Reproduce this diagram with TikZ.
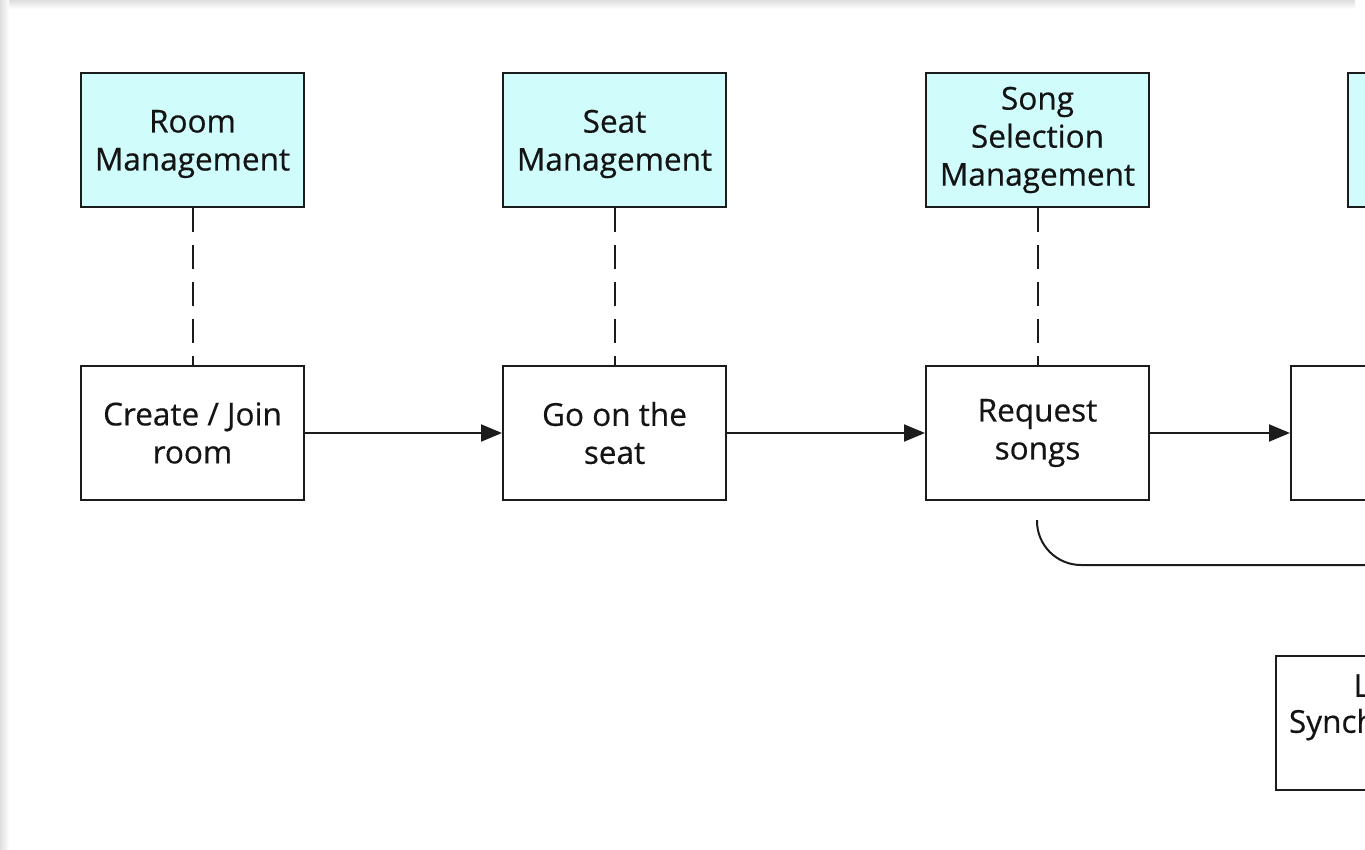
\documentclass[tikz,border=0pt]{standalone}
\usepackage{fontspec}
\setmainfont{Open Sans}
\newfontfamily\labelfont{Open Sans}[FakeBold=0.5]
\usetikzlibrary{arrows.meta}
\definecolor{modfill}{RGB}{208,252,252}
\definecolor{edge}{RGB}{28,28,28}
\definecolor{ink}{RGB}{20,20,20}
\begin{document}
\begin{tikzpicture}[x=1pt,y=-1pt,
  label text/.style={align=center, text=ink, font=\labelfont\fontsize{31.5}{38}\selectfont},
  box/.style={draw=edge, line width=2pt, minimum width=223pt, minimum height=134pt,
    inner sep=0pt, label text, anchor=north west},
  module/.style={box, fill=modfill},
  stepbox/.style={box, fill=white},
  link/.style={draw=edge, line width=2pt, dash pattern=on 24pt off 13pt},
  flow/.style={draw=edge, line width=2pt, -{Triangle[length=21pt,width=17pt]}},
  track/.style={draw=edge, line width=2pt, rounded corners=44pt},
]
\useasboundingbox (0,0) rectangle (1365,850);
\clip (0,0) rectangle (1365,850);
% page edge shadow
\shade[top color=black!13, bottom color=white] (0,0) rectangle (1355,9);
\shade[left color=black!13, right color=white] (0,0) rectangle (9,850);

% module layer
\node[module] (room)  at (80,72)   {};
\node[module] (seat)  at (502,72)  {};
\node[module] (song)  at (925,72)  {Song\\Selection\\Management};
\node[module] (mod4)  at (1347,72) {};
\node[label text] (roomtext) at ([yshift=-4pt]room.center) {Room\\Management};
\node[label text] (seattext) at ([yshift=-4pt]seat.center) {Seat\\Management};

% user flow
\node[stepbox] (create)  at (80,365)   {Create / Join\\room};
\node[stepbox] (goseat)  at (502,365)  {Go on the\\seat};
\node[stepbox] (request) at (925,365)  {Request\\songs};
\node[stepbox] (next)    at (1290,365) {};
\node[stepbox] (sync)    at (1275,655) {};
\node[label text, font=\labelfont\fontsize{31.5}{36}\selectfont] (synctext)
  at ([yshift=16pt]sync.center) {Lyric\\Synchronized};

\draw[link] (room.south) -- (create.north);
\draw[link] (seat.south) -- (goseat.north);
\draw[link] (song.south) -- (request.north);

\draw[flow] (create.east) -- (goseat.west);
\draw[flow] (goseat.east) -- (request.west);
\draw[flow] (request.east) -- (next.west);

\coordinate (t0) at (1037,520);
\coordinate (t1) at (1380,565);
\draw[track] (t0) -- (t0 |- t1) -- (t1);
\end{tikzpicture}
\end{document}
